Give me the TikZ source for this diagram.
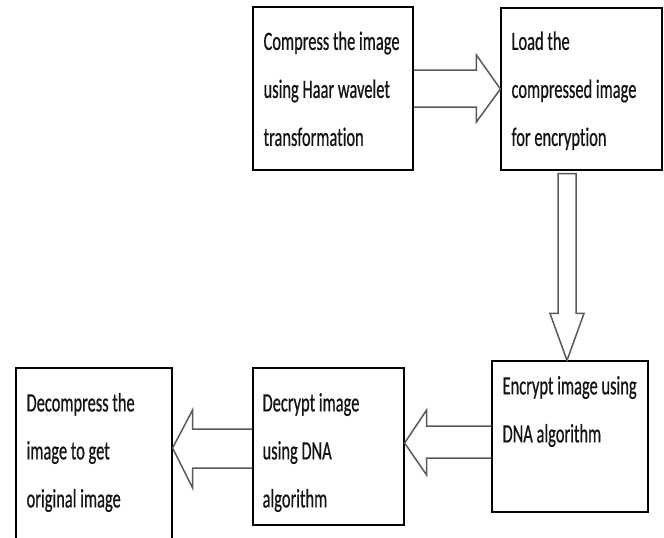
\documentclass[tikz,border=0pt]{standalone}
\usepackage{fontspec}
\newfontfamily\carl[FakeStretch=0.62, FakeBold=0.6, Ligatures=NoCommon]{Carlito}
\usetikzlibrary{calc}
\begin{document}
\begin{tikzpicture}[x=1pt,y=-1pt,
  box/.style={draw=black, line width=1.2pt, inner sep=0pt, fill=none},
  txt/.style={anchor=base west, inner sep=0pt, font=\carl\fontsize{26.5}{48}\selectfont, text=black!92},
  blk/.style={draw=black!65, line width=1.5pt, line join=miter}]
\useasboundingbox (0,0) rectangle (664,538);
\clip (0,0) rectangle (664,538);
% boxes
\node[box, minimum width=160pt, minimum height=163pt] (b1) at (333,88.5) {};
\node[box, minimum width=161pt, minimum height=162pt] (b2) at (581.5,89) {};
\node[box, minimum width=156pt, minimum height=151pt] (b3) at (570,436.5) {};
\node[box, minimum width=151pt, minimum height=157pt] (b5) at (328.5,446.5) {};
\node[box, minimum width=156pt, minimum height=192pt] (b4) at (94,464) {};
% texts
\node[txt] (t1) at ($(b1.north west)+(11,43.5)$) {\vtop{\hbox{Compress the image}\hbox{using Haar wavelet}\hbox{transformation}}};
\node[txt] (t2) at ($(b2.north west)+(11,42.5)$) {\vtop{\hbox{Load the}\hbox{compressed image}\hbox{for encryption}}};
\node[txt] (t3) at ($(b3.north west)+(11,34)$) {\vtop{\hbox{Encrypt image using}\hbox{DNA algorithm}}};
\node[txt] (t5) at ($(b5.north west)+(10,44)$) {\vtop{\hbox{Decrypt image}\hbox{using DNA}\hbox{algorithm}}};
\node[txt] (t4) at ($(b4.north west)+(11,44)$) {\vtop{\hbox{Decompress the}\hbox{image to get}\hbox{original image}}};
% arrow 1: b1 -> b2
\draw[blk] ($(b1.east)+(0,-18.5)$) -- ($(b2.west)+(-24,-19)$) -- ($(b2.west)+(-24,-34)$) -- (b2.west)
  -- ($(b2.west)+(-24,33)$) -- ($(b2.west)+(-24,18)$) -- ($(b1.east)+(0,18.5)$);
% arrow 2: b2 -> b3
\coordinate (tail2) at ($(b2.south)+(-14.5,3)$);
\coordinate (tip2) at ($(b3.north)+(-3,0)$);
\draw[blk] ($(tail2)+(-9,0)$) -- ($(tip2)+(-9,-47)$) -- ($(tip2)+(-17,-47)$) -- (tip2)
  -- ($(tip2)+(17,-47)$) -- ($(tip2)+(9,-47)$) -- ($(tail2)+(9,0)$) -- cycle;
% arrow 3: b3 -> b5
\coordinate (tip3) at ($(b5.east)+(0,-3.5)$);
\draw[blk] ($(b3.west)+(0,-10.5)$) -- ($(tip3)+(22,-17)$) -- ($(tip3)+(22,-33)$) -- (tip3)
  -- ($(tip3)+(22,32)$) -- ($(tip3)+(22,15)$) -- ($(b3.west)+(0,21.5)$);
% arrow 4: b5 -> b4
\coordinate (tip4) at ($(b4.east |- b5.west)+(0,1.5)$);
\draw[blk] ($(b5.west)+(0,-17.5)$) -- ($(tip4)+(20,-19)$) -- ($(tip4)+(20,-38)$) -- (tip4)
  -- ($(tip4)+(20,40)$) -- ($(tip4)+(20,20)$) -- ($(b5.west)+(0,21.5)$);
\end{tikzpicture}
\end{document}
